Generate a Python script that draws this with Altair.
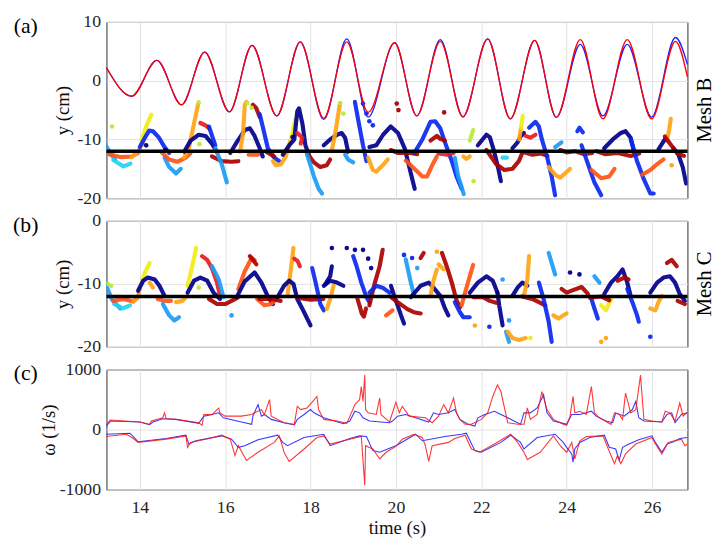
import altair as alt
import pandas as pd

# ---------------- data ----------------
X_TICKS = [14, 16, 18, 20, 22, 24, 26]
X_DOMAIN = [13.22, 26.83]

# panel (a): oscillation (extrema)
SIN_T = [13.22, 13.81, 14.40, 14.98, 15.52, 16.10, 16.63, 17.21, 17.76, 18.31, 18.85, 19.35, 19.97,
         20.49, 21.04, 21.57, 22.15, 22.68, 23.25, 23.76, 24.32, 24.85, 25.42, 25.99, 26.55, 26.83]
SIN_RED = [2.2, -2.65, 3.44, -4.1, 4.87, -5.3, 6.03, -5.98, 6.6, -6.4, 6.6, -5.4, 6.46,
           -5.98, 6.7, -6.14, 7.1, -6.5, 6.87, -6.24, 7.0, -6.5, 7.0, -6.5, 6.7, 0.63]
SIN_BLUE = [2.2, -2.65, 3.44, -4.1, 4.87, -5.3, 6.03, -5.98, 6.6, -6.6, 7.1, -6.2, 6.46,
            -5.98, 6.98, -6.14, 7.1, -6.5, 6.87, -6.24, 6.2, -6.0, 6.2, -6.2, 7.35, 2.75]

JET_NAMES = ["navy", "blue", "lightblue", "cyan", "yellowgreen", "yellow", "orange", "orangered", "red", "darkred"]
JET_HEX = ["#00008c", "#0a28f0", "#1c9cf5", "#22d2f2", "#b4ec3c", "#f2ec10", "#ffa414", "#ff5414", "#e61c1c", "#ac0000"]

TRACKS_A = [
    ("lightblue", [(13.17, -10.6), (13.31, -12.3), (13.42, -13.4)]),
    ("cyan", [(13.38, -13.5), (13.62, -14.6), (13.78, -14.1)]),
    ("orangered", [(13.27, -12.5), (13.54, -13.0), (13.81, -12.9), (13.96, -12.3)]),
    ("orange", [(13.81, -13.0), (13.96, -12.1), (14.08, -10.5)]),
    ("yellow", [(14.04, -10.2), (14.15, -7.8), (14.27, -5.8)]),
    ("blue", [(14.00, -11.3), (14.12, -9.7), (14.22, -8.5), (14.31, -8.6), (14.45, -9.7), (14.58, -11.3), (14.69, -12.3)]),
    ("lightblue", [(14.58, -13.1), (14.69, -14.7), (14.85, -15.8), (14.96, -15.0)]),
    ("orangered", [(14.50, -12.1), (14.69, -13.4), (14.88, -13.8), (15.08, -13.1), (15.19, -12.3)]),
    ("orange", [(15.04, -13.1), (15.15, -11.5), (15.27, -7.3), (15.37, -3.9)]),
    ("navy", [(15.04, -12.1), (15.19, -10.2), (15.38, -9.2), (15.54, -9.4), (15.69, -10.7), (15.81, -12.1)]),
    ("red", [(15.42, -7.2), (15.54, -7.6), (15.62, -8.1)]),
    ("darkred", [(15.69, -12.9), (15.92, -13.7), (16.15, -13.8), (16.31, -13.7)]),
    ("blue", [(15.62, -7.8), (15.77, -11.0)]),
    ("lightblue", [(15.77, -11.5), (15.92, -14.2), (16.04, -17.3)]),
    ("navy", [(16.12, -12.3), (16.27, -10.5), (16.46, -8.4), (16.58, -8.1), (16.69, -9.4), (16.81, -11.5), (16.88, -12.9)]),
    ("orange", [(16.35, -12.1), (16.42, -8.9), (16.46, -4.1), (16.50, -3.6)]),
    ("darkred", [(16.65, -4.1), (16.73, -4.7), (16.81, -6.2)]),
    ("blue", [(16.81, -5.7), (16.88, -7.8), (17.00, -11.5), (17.15, -13.1), (17.27, -13.7)]),
    ("orangered", [(16.55, -12.6), (16.77, -12.6)]),
    ("darkred", [(16.96, -12.1), (17.15, -12.9)]),
    ("orange", [(17.12, -13.7), (17.19, -14.4), (17.31, -14.2), (17.42, -12.9), (17.54, -10.0)]),
    ("yellow", [(17.54, -10.0), (17.65, -6.5)]),
    ("navy", [(17.35, -12.6), (17.50, -11.0), (17.62, -10.0), (17.69, -5.2), (17.73, -4.7), (17.81, -7.3), (17.88, -11.0), (17.96, -12.6)]),
    ("red", [(17.69, -8.9), (17.81, -9.7), (17.77, -10.7)]),
    ("darkred", [(17.92, -12.3), (18.08, -13.9), (18.23, -14.7), (18.38, -14.4), (18.46, -13.4)]),
    ("lightblue", [(17.92, -12.6), (18.08, -16.3), (18.19, -18.4), (18.27, -19.2)]),
    ("navy", [(18.31, -11.0), (18.46, -10.0), (18.62, -9.2), (18.73, -8.9), (18.81, -9.7), (18.88, -12.1)]),
    ("orange", [(18.50, -11.8), (18.58, -8.9), (18.65, -5.7), (18.69, -3.9)]),
    ("lightblue", [(18.81, -12.6), (18.88, -13.4), (19.00, -13.9)]),
    ("blue", [(19.04, -3.6), (19.12, -6.8), (19.23, -11.0), (19.31, -13.7)]),
    ("navy", [(19.38, -11.3), (19.54, -11.0), (19.70, -9.2), (19.88, -7.8), (20.05, -8.9), (20.21, -11.6), (20.28, -13.7), (20.44, -18.4)]),
    ("orange", [(19.35, -13.1), (19.46, -15.2), (19.54, -15.5), (19.69, -14.4), (19.81, -13.4)]),
    ("darkred", [(19.88, -11.8), (20.04, -12.3), (20.35, -12.3), (20.50, -12.5)]),
    ("orangered", [(20.23, -13.6), (20.42, -14.9), (20.62, -16.3), (20.73, -16.3), (20.85, -14.4), (20.96, -12.9)]),
    ("blue", [(20.43, -12.3), (20.62, -10.0), (20.81, -7.0), (20.92, -6.9), (21.04, -8.1), (21.15, -10.5), (21.31, -13.7), (21.42, -16.3), (21.54, -18.4)]),
    ("darkred", [(20.81, -10.2), (20.96, -9.4), (21.04, -9.9), (21.15, -10.2)]),
    ("red", [(21.0, -12.4), (21.2, -12.6), (21.35, -12.3)]),
    ("lightblue", [(21.38, -13.1), (21.46, -16.3), (21.59, -19.3)]),
    ("yellowgreen", [(21.73, -10.2), (21.81, -8.4)]),
    ("orange", [(21.58, -12.9), (21.65, -13.3), (21.73, -12.9)]),
    ("navy", [(21.92, -11.0), (22.12, -9.2), (22.20, -9.6), (22.30, -12.0), (22.40, -15.0), (22.46, -17.1)]),
    ("darkred", [(22.12, -11.8), (22.35, -14.2), (22.54, -15.2), (22.73, -15.0), (22.88, -13.7), (22.96, -12.3)]),
    ("cyan", [(22.50, -13.1), (22.60, -13.1)]),
    ("navy", [(22.73, -11.5), (22.85, -10.5), (22.92, -9.5), (23.00, -8.9)]),
    ("orange", [(22.89, -10.0), (22.93, -8.0)]),
    ("yellow", [(22.93, -8.0), (22.97, -6.0)]),
    ("red", [(23.04, -9.4), (23.15, -9.7), (23.27, -9.2)]),
    ("darkred", [(23.0, -12.2), (23.2, -12.6), (23.4, -12.4), (23.55, -12.8)]),
    ("blue", [(23.12, -8.0), (23.27, -7.0), (23.35, -7.8), (23.42, -10.0), (23.54, -12.9), (23.65, -16.3), (23.73, -19.5)]),
    ("lightblue", [(23.73, -11.3), (23.88, -10.5)]),
    ("orange", [(23.58, -14.7), (23.73, -16.0), (23.85, -16.5), (23.96, -15.8), (24.08, -15.0)]),
    ("darkred", [(23.85, -11.8), (24.00, -12.2), (24.20, -12.0), (24.40, -12.5), (24.60, -12.3)]),
    ("blue", [(24.25, -8.6), (24.30, -8.0), (24.38, -8.8)]),
    ("blue", [(24.35, -11.0), (24.50, -14.2), (24.65, -17.3), (24.81, -19.5)]),
    ("navy", [(24.88, -11.5), (25.08, -10.0), (25.27, -8.9), (25.38, -8.6), (25.50, -9.7), (25.60, -12.6)]),
    ("orangered", [(24.58, -15.2), (24.81, -16.6), (25.00, -16.3), (25.12, -15.0)]),
    ("darkred", [(24.70, -12.0), (24.90, -12.5), (25.20, -12.3), (25.50, -12.8), (25.70, -12.4)]),
    ("blue", [(25.50, -10.0), (25.65, -13.7), (25.81, -16.8), (25.96, -19.2), (26.04, -19.2)]),
    ("orangered", [(25.77, -16.0), (25.96, -15.2), (26.12, -14.2), (26.27, -13.4)]),
    ("orange", [(26.35, -10.2), (26.40, -8.4), (26.44, -6.5)]),
    ("navy", [(26.15, -11.7), (26.30, -10.0)]),
    ("navy", [(26.50, -11.5), (26.62, -12.6), (26.72, -14.7), (26.80, -17.5)]),
    ("darkred", [(26.30, -9.5), (26.45, -11.0), (26.60, -12.4), (26.75, -12.8)]),
]
DOTS_A = [
    ("yellowgreen", 13.35, -7.8), ("yellowgreen", 15.40, -10.8), ("yellowgreen", 15.38, -3.7),
    ("yellowgreen", 16.52, -3.8), ("yellowgreen", 16.62, -4.6), ("yellowgreen", 18.70, -3.8),
    ("yellowgreen", 18.77, -5.6), ("yellowgreen", 21.82, -17.1),
    ("darkred", 20.02, -3.9), ("darkred", 20.06, -5.0), ("darkred", 21.13, -5.4),
    ("blue", 19.23, -3.9), ("blue", 19.31, -5.6), ("blue", 19.38, -6.9), ("blue", 19.46, -7.6),
    ("navy", 14.15, -11.0), ("navy", 14.60, -11.8), ("navy", 17.58, -9.6), ("orange", 26.46, -14.4),
]

# panel (b)
TRACKS_B = [
    ("lightblue", [(13.22, -10.4), (13.35, -12.5), (13.54, -13.9)]),
    ("cyan", [(13.40, -13.2), (13.60, -13.9), (13.77, -13.4)]),
    ("orangered", [(13.38, -12.7), (13.62, -12.4), (13.85, -12.8), (13.96, -12.1)]),
    ("orange", [(13.85, -12.8), (13.96, -12.0), (14.00, -10.8)]),
    ("yellow", [(14.04, -10.0), (14.12, -8.2), (14.23, -6.7)]),
    ("navy", [(13.96, -11.1), (14.08, -9.5), (14.19, -9.0), (14.35, -9.3), (14.46, -10.3), (14.58, -11.9)]),
    ("orange", [(14.23, -9.8), (14.31, -10.6)]),
    ("orangered", [(14.42, -12.4), (14.58, -12.7), (14.73, -12.7)]),
    ("lightblue", [(14.54, -13.2), (14.69, -15.0), (14.81, -15.8), (14.92, -15.3)]),
    ("orange", [(14.85, -12.9), (15.00, -12.7), (15.12, -11.9)]),
    ("yellow", [(15.12, -10.3), (15.23, -7.2), (15.32, -4.3)]),
    ("navy", [(15.12, -11.4), (15.27, -9.5), (15.42, -9.0), (15.58, -9.5), (15.73, -11.4), (15.88, -12.4)]),
    ("red", [(15.46, -5.6), (15.58, -6.2), (15.69, -7.5), (15.81, -9.8), (15.88, -11.9)]),
    ("lightblue", [(15.69, -7.2), (15.85, -9.3), (15.96, -12.1)]),
    ("darkred", [(15.62, -12.4), (15.81, -13.2), (16.00, -13.2), (16.15, -12.7), (16.31, -12.1)]),
    ("orangered", [(16.31, -10.8), (16.46, -8.0), (16.62, -5.9), (16.69, -6.2)]),
    ("darkred", [(16.58, -5.6), (16.73, -6.9)]),
    ("navy", [(16.27, -12.1), (16.46, -9.6), (16.69, -8.2), (16.85, -9.8), (17.00, -12.0), (17.12, -13.2)]),
    ("orangered", [(16.75, -12.4), (16.92, -13.4), (17.08, -13.2), (17.20, -12.4)]),
    ("darkred", [(16.80, -12.4), (17.10, -12.4), (17.30, -12.7)]),
    ("orange", [(17.46, -11.9), (17.54, -7.7), (17.60, -4.3)]),
    ("red", [(17.62, -6.0), (17.70, -6.4), (17.75, -7.2)]),
    ("navy", [(17.23, -12.1), (17.38, -10.3), (17.50, -9.5), (17.60, -10.0), (17.69, -12.4), (17.85, -14.5), (18.00, -16.6)]),
    ("darkred", [(17.70, -12.2), (18.00, -12.5), (18.30, -12.4)]),
    ("blue", [(18.04, -7.5), (18.12, -9.8), (18.23, -13.2), (18.31, -14.2)]),
    ("orange", [(18.38, -14.0), (18.46, -12.4), (18.54, -10.3)]),
    ("navy", [(18.35, -10.0), (18.46, -8.8), (18.50, -7.2)]),
    ("navy", [(18.31, -10.3), (18.46, -9.5), (18.62, -9.8), (18.77, -10.3)]),
    ("blue", [(19.00, -5.6), (19.08, -7.2), (19.19, -9.8), (19.31, -12.1), (19.38, -12.9)]),
    ("darkred", [(19.69, -4.6), (19.62, -7.2), (19.50, -10.0), (19.38, -13.4)]),
    ("darkred", [(19.10, -12.4), (19.15, -13.5), (19.20, -14.7), (19.25, -15.2), (19.30, -13.9)]),
    ("orangered", [(19.77, -15.0), (19.92, -14.2)]),
    ("blue", [(19.38, -11.4), (19.54, -10.3), (19.69, -10.6), (19.85, -11.4)]),
    ("navy", [(19.885, -10.3), (19.96, -11.9), (20.04, -13.4), (20.12, -15.0), (20.19, -16.3)]),
    ("darkred", [(19.885, -12.1), (20.04, -12.9), (20.27, -14.0), (20.42, -14.5), (20.58, -14.7)]),
    ("lightblue", [(20.23, -6.1), (20.35, -9.8), (20.42, -11.6)]),
    ("darkred", [(20.58, -5.9), (20.65, -5.1)]),
    ("orange", [(21.00, -6.9), (21.12, -7.7)]),
    ("navy", [(20.35, -12.1), (20.58, -10.3), (20.77, -9.8), (20.88, -10.6), (21.04, -11.9), (21.15, -13.9), (21.23, -15.0)]),
    ("orange", [(20.81, -11.9), (20.88, -9.5), (20.96, -7.7)]),
    ("darkred", [(21.08, -5.1), (21.19, -7.2), (21.31, -9.8), (21.42, -12.6), (21.50, -13.7)]),
    ("blue", [(21.38, -12.9), (21.50, -14.5), (21.58, -15.3), (21.73, -15.3)]),
    ("orangered", [(21.54, -13.4), (21.62, -11.4), (21.73, -8.8), (21.81, -7.0)]),
    ("navy", [(21.73, -11.4), (21.92, -9.8), (22.12, -8.8), (22.27, -9.5), (22.38, -11.4)]),
    ("navy", [(22.38, -11.4), (22.42, -13.4), (22.50, -16.6)]),
    ("lightblue", [(22.58, -17.6), (22.65, -19.2)]),
    ("darkred", [(21.81, -12.1), (22.04, -12.1), (22.20, -12.7), (22.35, -13.0)]),
    ("orange", [(22.62, -17.6), (22.73, -18.6), (22.88, -18.9), (23.04, -18.6)]),
    ("navy", [(22.73, -11.9), (22.85, -10.6), (22.96, -9.8), (23.08, -10.3)]),
    ("orange", [(23.00, -11.9), (23.08, -9.3), (23.12, -5.6)]),
    ("darkred", [(22.96, -12.0), (23.19, -12.4), (23.35, -12.9), (23.50, -13.4)]),
    ("lightblue", [(23.58, -5.1), (23.65, -6.7), (23.73, -8.5)]),
    ("blue", [(23.35, -9.8), (23.46, -12.4), (23.58, -16.0), (23.65, -19.2)]),
    ("orange", [(23.69, -15.0), (23.81, -15.5), (23.92, -15.0), (24.00, -14.7)]),
    ("darkred", [(23.88, -10.8), (24.00, -11.4), (24.15, -11.0), (24.35, -10.5), (24.50, -11.6)]),
    ("yellow", [(24.81, -13.4), (24.92, -14.2), (25.04, -12.4)]),
    ("navy", [(24.88, -11.6), (25.04, -9.8), (25.19, -8.8), (25.31, -7.7), (25.42, -9.8), (25.50, -11.9)]),
    ("blue", [(24.58, -12.4), (24.65, -13.9), (24.73, -15.5)]),
    ("lightblue", [(24.65, -8.8), (24.77, -9.8)]),
    ("blue", [(25.42, -10.8), (25.54, -12.9), (25.65, -15.0), (25.69, -16.0)]),
    ("darkred", [(25.20, -9.5), (25.35, -9.0), (25.45, -9.3)]),
    ("darkred", [(24.55, -12.2), (24.80, -12.0), (25.00, -12.6)]),
    ("orange", [(25.96, -13.9), (26.08, -14.2), (26.15, -12.9), (26.23, -11.9)]),
    ("navy", [(25.96, -11.4), (26.12, -9.8), (26.27, -9.0), (26.42, -8.8), (26.54, -9.8), (26.65, -11.6), (26.77, -12.7)]),
    ("darkred", [(26.35, -6.7), (26.46, -6.2), (26.58, -7.2)]),
    ("darkred", [(26.60, -12.7), (26.77, -13.2)]),
]
DOTS_B = [
    ("yellowgreen", 13.25, -10.0), ("yellowgreen", 13.33, -10.3), ("yellowgreen", 15.38, -10.6),
    ("navy", 18.50, -4.3), ("navy", 18.85, -4.3), ("navy", 19.04, -4.6), ("navy", 19.23, -4.6),
    ("navy", 19.35, -6.0), ("navy", 19.42, -7.5), ("navy", 24.08, -8.2), ("navy", 24.30, -8.5),
    ("blue", 25.96, -18.4), ("blue", 20.19, -5.4), ("blue", 20.38, -5.9), ("lightblue", 20.50, -7.5),
    ("lightblue", 16.15, -15.0), ("blue", 22.19, -16.8), ("yellow", 23.15, -18.6), ("orange", 21.85, -16.6),
    ("orange", 20.96, -4.9), ("orange", 24.81, -19.2), ("orange", 24.92, -18.6),
    ("lightblue", 22.50, -9.3), ("lightblue", 22.65, -15.8),
]

# panel (c): vorticity
RED_POS = [(13.19, 60), (13.31, 160), (14.00, 126), (14.23, 88), (14.27, 142), (14.54, 197), (14.58, 279), (14.62, 180),
           (14.85, 170), (15.38, 115), (15.46, 71), (15.50, 250), (15.69, 250), (15.85, 361), (15.88, 279), (16.00, 224),
           (16.38, 224), (16.62, 250), (16.69, 279), (16.85, 333), (16.92, 250), (17.04, 500), (17.08, 224), (17.38, 115),
           (17.62, 88), (17.69, 388), (17.77, 333), (17.92, 361), (18.15, 552), (18.19, 333), (18.31, 170), (18.62, 142),
           (18.85, 104), (19.04, 416), (19.15, 498), (19.19, 716), (19.23, 470), (19.27, 908), (19.29, 333), (19.35, 279),
           (19.54, 252), (19.62, 525), (19.65, 252), (19.85, 126), (20.00, 454), (20.08, 279), (20.15, 388), (20.31, 224),
           (20.69, 197), (20.85, 115), (21.00, 224), (21.12, 416), (21.23, 279), (21.35, 525), (21.42, 279), (21.50, 170),
           (21.62, 88), (21.77, 88), (22.00, 170), (22.15, 279), (22.27, 552), (22.38, 744), (22.46, 634), (22.62, 115),
           (22.85, 88), (23.00, 88), (23.08, 361), (23.15, 170), (23.31, 252), (23.42, 634), (23.54, 333), (23.69, 170),
           (23.92, 88), (24.00, 71), (24.08, 224), (24.15, 552), (24.19, 279), (24.31, 306), (24.46, 252), (24.58, 716),
           (24.65, 279), (24.77, 197), (25.04, 88), (25.12, 279), (25.23, 252), (25.31, 170), (25.38, 607), (25.50, 279),
           (25.62, 333), (25.73, 908), (25.81, 170), (26.00, 142), (26.23, 126), (26.31, 306), (26.42, 279), (26.54, 142),
           (26.65, 443), (26.73, 224), (26.83, 290)]
BLUE_POS = [(13.19, 33), (13.31, 142), (14.00, 126), (14.23, 82), (14.31, 126), (14.54, 180), (14.85, 170), (15.38, 104),
            (15.50, 224), (15.69, 252), (15.85, 279), (15.96, 197), (16.38, 126), (16.62, 88), (16.65, 224), (16.77, 416),
            (16.85, 224), (16.92, 252), (17.08, 170), (17.38, 115), (17.62, 77), (17.69, 170), (17.85, 252), (18.00, 334),
            (18.08, 279), (18.31, 197), (18.77, 98), (18.92, 142), (19.04, 306), (19.15, 279), (19.23, 197), (19.38, 142),
            (19.85, 115), (19.92, 142), (20.04, 224), (20.23, 252), (20.46, 197), (20.77, 126), (20.88, 279), (21.00, 252),
            (21.23, 279), (21.38, 334), (21.50, 170), (21.69, 88), (21.85, 60), (21.92, 197), (22.08, 252), (22.31, 306),
            (22.46, 252), (22.62, 197), (22.92, 88), (23.00, 279), (23.15, 279), (23.31, 361), (23.46, 580), (23.54, 279),
            (23.69, 142), (23.92, 104), (24.00, 88), (24.12, 252), (24.31, 252), (24.58, 306), (24.69, 224), (24.92, 142),
            (25.08, 115), (25.15, 279), (25.35, 224), (25.54, 334), (25.62, 470), (25.69, 197), (25.81, 142), (26.23, 126),
            (26.35, 252), (26.46, 279), (26.54, 115), (26.69, 252), (26.83, 279)]
RED_NEG = [(13.19, -115), (13.69, -77), (13.85, -148), (13.96, -213), (14.62, -159), (15.08, -104), (15.12, -295),
           (15.19, -213), (15.62, -148), (15.92, -93), (16.12, -159), (16.23, -432), (16.31, -268), (16.50, -514),
           (16.77, -377), (17.15, -213), (17.27, -104), (17.38, -377), (17.50, -530), (17.85, -323), (18.15, -131),
           (18.31, -104), (18.46, -241), (18.92, -159), (19.19, -115), (19.27, -924), (19.29, -268), (19.46, -323),
           (19.62, -487), (19.77, -377), (20.00, -279), (20.15, -159), (20.42, -77), (20.62, -131), (20.69, -268),
           (20.77, -530), (20.85, -268), (21.23, -213), (21.38, -148), (21.62, -93), (21.77, -323), (21.96, -377),
           (22.31, -241), (22.69, -77), (22.85, -213), (23.00, -377), (23.08, -498), (23.38, -377), (23.69, -104),
           (23.85, -268), (24.00, -377), (24.12, -213), (24.19, -487), (24.31, -186), (24.46, -115), (24.85, -104),
           (24.96, -295), (25.12, -569), (25.19, -432), (25.27, -569), (25.38, -405), (25.62, -241), (26.00, -131),
           (26.08, -241), (26.23, -405), (26.38, -213), (26.69, -159), (26.77, -268), (26.83, -241)]
BLUE_NEG = [(13.19, -77), (13.77, -60), (13.96, -202), (14.62, -148), (15.08, -93), (15.15, -241), (15.31, -186),
            (15.92, -104), (16.15, -159), (16.31, -295), (16.46, -268), (16.77, -170), (17.23, -93), (17.35, -213),
            (17.46, -268), (17.85, -131), (18.31, -77), (18.46, -268), (18.92, -148), (19.15, -104), (19.31, -115),
            (19.46, -350), (19.62, -377), (20.00, -268), (20.46, -77), (20.62, -186), (21.15, -115), (21.54, -77),
            (21.65, -60), (21.85, -350), (22.00, -377), (22.46, -213), (22.69, -93), (22.92, -213), (23.00, -323),
            (23.31, -131), (23.73, -77), (23.92, -213), (24.00, -295), (24.12, -405), (24.15, -541), (24.19, -323),
            (24.31, -213), (24.54, -131), (24.88, -93), (25.00, -295), (25.15, -323), (25.23, -514), (25.31, -295),
            (25.46, -241), (25.69, -170), (26.00, -104), (26.08, -213), (26.23, -377), (26.35, -241), (26.46, -213),
            (26.65, -148), (26.83, -131)]

# ---------------- table building ----------------
def tracks_df(tracks):
    rows = []
    for k, (c, pts) in enumerate(tracks):
        for i, (t, v) in enumerate(pts):
            rows.append({"k": k, "o": i, "c": c, "t": t, "v": v})
    return pd.DataFrame(rows)


def dots_df(dots):
    return pd.DataFrame([{"c": c, "t": t, "v": v} for c, t, v in dots])


def series_df(parts):
    rows = []
    for name, pts in parts:
        for t, v in pts:
            rows.append({"s": name, "t": t, "v": v})
    return pd.DataFrame(rows)


FONT = "Liberation Serif, Times New Roman, serif"
W = 590
jet = alt.Scale(domain=JET_NAMES, range=JET_HEX)
xs = alt.Scale(domain=X_DOMAIN, nice=False, zero=False)
lbl = "'' + datum.value"

x_hidden = alt.X("t:Q", scale=xs, axis=alt.Axis(values=X_TICKS, labels=False, ticks=False, title=None,
                                                 grid=True, domain=False))
x_shown = alt.X("t:Q", scale=xs, axis=alt.Axis(values=X_TICKS, labelExpr=lbl, ticks=False, title="time (s)",
                                                grid=True, domain=False, labelPadding=9, titlePadding=3))


def y_enc(domain, values, title, tpad):
    return alt.Y("v:Q", scale=alt.Scale(domain=domain, nice=False, zero=False),
                 axis=alt.Axis(values=values, labelExpr=lbl, ticks=False, title=title, grid=True,
                               domain=False, labelPadding=6, titlePadding=tpad))


one = pd.DataFrame({"a": [0]})


def tag(text):
    return alt.Chart(one).mark_text(font=FONT, fontSize=22, align="center", baseline="middle", color="black").encode(
        x=alt.value(-82), y=alt.value(4), text=alt.value(text))


def mesh(text, h):
    return alt.Chart(one).mark_text(font=FONT, fontSize=21, angle=270, align="center", baseline="middle",
                                    color="black").encode(x=alt.value(W + 18), y=alt.value(h / 2),
                                                          text=alt.value(text))


def track_panel(tracks, dots, domain, values, h, x_enc, label, meshname, extra=None):
    y = y_enc(domain, values, "y (cm)", 5)
    lines = alt.Chart(tracks_df(tracks)).mark_line(strokeWidth=4.2, strokeCap="round", strokeJoin="round",
                                                   opacity=0.92, clip=True).encode(
        x=x_enc, y=y, color=alt.Color("c:N", scale=jet, legend=None), detail="k:N", order="o:Q")
    pts = alt.Chart(dots_df(dots)).mark_circle(size=22, opacity=0.95, clip=True).encode(
        x=x_enc, y=y, color=alt.Color("c:N", scale=jet, legend=None))
    rule = alt.Chart(pd.DataFrame({"v": [-12]})).mark_rule(color="black", strokeWidth=3.6).encode(y=y)
    layers = [lines, pts, rule]
    if extra:
        layers += extra(x_enc, y)
    layers += [tag(label), mesh(meshname, h)]
    return alt.layer(*layers).properties(width=W, height=h)


def sines(x_enc, y):
    blue = alt.Chart(series_df([("b", list(zip(SIN_T, SIN_BLUE)))])).mark_line(
        color="#1f1fff", strokeWidth=1.3, interpolate="monotone").encode(x=x_enc, y=y)
    red = alt.Chart(series_df([("r", list(zip(SIN_T, SIN_RED)))])).mark_line(
        color="#ff0000", strokeWidth=1.3, interpolate="monotone").encode(x=x_enc, y=y)
    return [blue, red]


panel_a = track_panel(TRACKS_A, DOTS_A, [-20, 10], [10, 0, -10, -20], 179, x_hidden, "(a)", "Mesh B", sines)
panel_b = track_panel(TRACKS_B, DOTS_B, [-20, 0], [0, -10, -20], 128, x_hidden, "(b)", "Mesh C")

yc = y_enc([-1000, 1000], [1000, 0, -1000], "ω (1/s)", 1)
blue_c = alt.Chart(series_df([("pos", BLUE_POS), ("neg", BLUE_NEG)])).mark_line(
    color="#2424ff", strokeWidth=1.1, opacity=0.9, clip=True).encode(x=x_shown, y=yc, detail="s:N")
red_c = alt.Chart(series_df([("pos", RED_POS), ("neg", RED_NEG)])).mark_line(
    color="#ff1414", strokeWidth=1.1, opacity=0.85, clip=True).encode(x=x_shown, y=yc, detail="s:N")
panel_c = alt.layer(blue_c, red_c, tag("(c)")).properties(width=W, height=122)

PAD = {"left": 4, "top": 0, "right": 0, "bottom": 0}
chart = alt.VConcatChart(vconcat=[panel_a, panel_b, panel_c], spacing=3, padding=PAD).configure(
    font=FONT, padding=PAD
).configure_view(stroke="#2e2e2e", strokeWidth=1).configure_axis(
    labelFont=FONT, labelFontSize=18, labelColor="#262626", titleFont=FONT, titleFontSize=19,
    titleFontWeight="normal", titleColor="#111111", gridColor="#e2e2e2", gridWidth=1
)

chart.save("out.html", embed_options={"renderer": "svg", "actions": False})
